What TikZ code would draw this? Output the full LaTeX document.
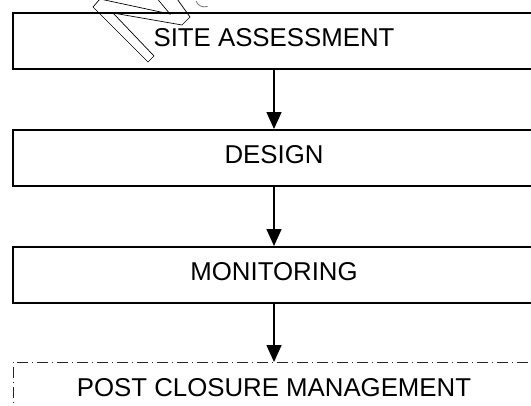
\documentclass[tikz,border=0pt]{standalone}
\usepackage{fontspec}
\setmainfont{Liberation Sans}
\usetikzlibrary{arrows.meta,positioning}
\tikzset{
  >=Triangle,
  stage/.style={draw=black,line width=2pt,minimum width=522pt,minimum height=56pt,
                inner sep=0pt,text height=18.5pt,text depth=7pt,align=center,
                font=\fontsize{25.8}{30}\selectfont},
  later/.style={draw=black!85,line width=0.9pt,
                dash pattern=on 1pt off 4pt on 11pt off 4pt},
  flow/.style={-{Triangle[width=15pt,length=17pt]},line width=1.5pt,draw=black},
  wmark/.style={draw=black,line width=0.7pt,line join=miter},
}

\begin{document}
\begin{tikzpicture}[x=1pt,y=-1pt,node distance=59pt]
  \useasboundingbox (0,0) rectangle (531,405);
  \clip (0,0) rectangle (531,405);

  % ---- the four stages ----
  \node[stage] (site) at (274,41) {SITE ASSESSMENT};
  \node[stage,below=of site] (design) {DESIGN};
  \node[stage,below=of design] (monit) {MONITORING};
  \node[stage,later,below=58pt of monit] (post) {POST CLOSURE MANAGEMENT};

  % ---- flow between stages ----
  \draw[flow] (site) -- (design);
  \draw[flow] (design) -- (monit);
  \draw[flow] (monit) -- (post);

  % ---- stamp outline over the first box ----
  \draw[wmark] (93,7) -- (100,-1) -- (170,14) -- (155,-4) -- (175,-4)
    -- (190,17) -- (182,25) -- (113,13) -- (154,56) -- (148,62) -- cycle;
  \draw[wmark,black!60] (196,1) arc[start angle=200,end angle=290,radius=9pt];
\end{tikzpicture}
\end{document}
